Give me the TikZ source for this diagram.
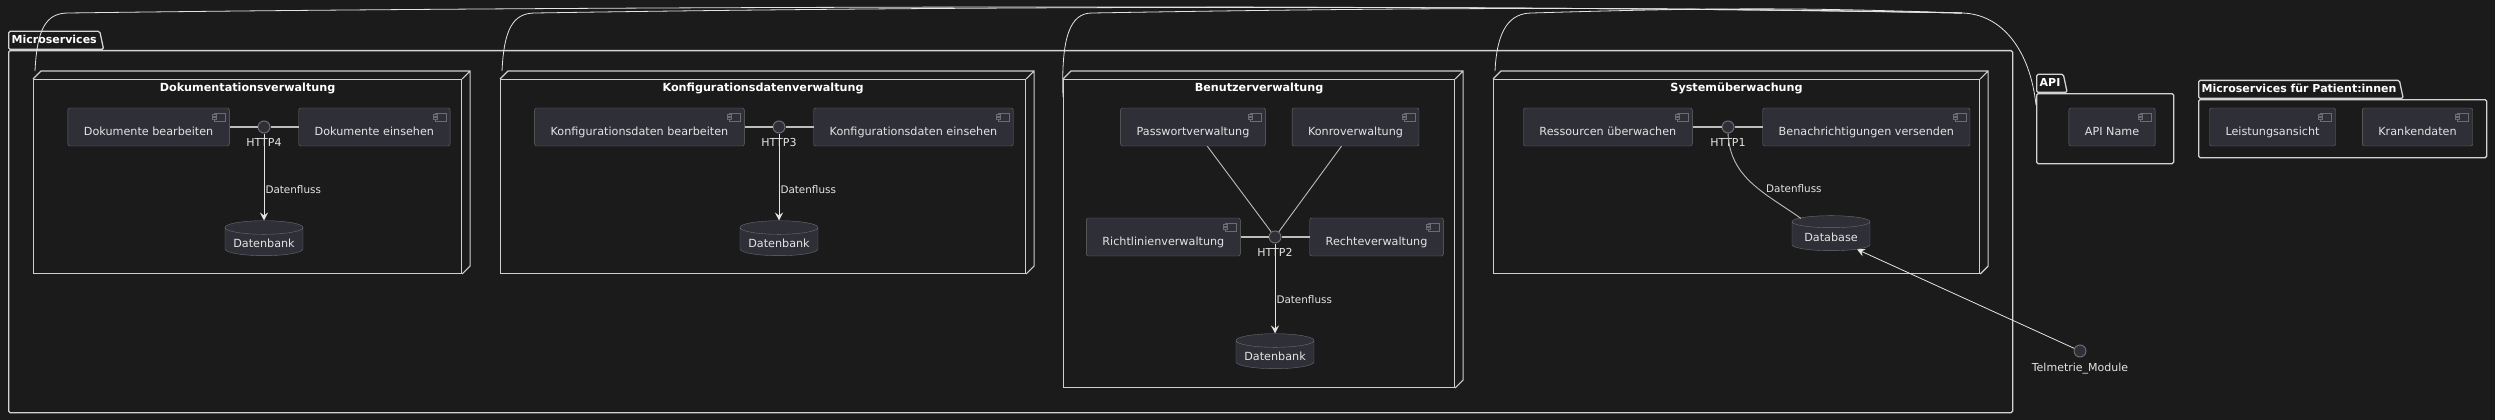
\documentclass[tikz,border=0pt]{standalone}
\usepackage{fontspec}
\setmainfont{DejaVu Sans}
\usetikzlibrary{%
	positioning,
	calc,
	arrows.meta,
	shapes.geometric
}
\definecolor{bgcol}{HTML}{1B1B1B}
\definecolor{pkgline}{HTML}{D4D4D4}
\definecolor{boxline}{HTML}{CFCFCF}
\definecolor{compfill}{HTML}{2F2F37}
\definecolor{compline}{HTML}{6C6C70}
\definecolor{textcol}{HTML}{E4E4E4}
\definecolor{linkcol}{HTML}{BDBDBD}

% back edges of a node box
\newcommand{\depthedges}[1]{\draw[boxedge] (#1.north west) -- ++(8,-8) -| ($(#1.south east)+(8,-8)$) -- (#1.south east) (#1.north east) -- ++(8,-8);}

\begin{document}
\begin{tikzpicture}[
		x=1pt, y=-1pt,
		comp/.style={draw=compline, fill=compfill, rounded corners=2pt, minimum height=38pt, inner xsep=16pt, inner ysep=2pt, text height=19pt, text depth=2pt, text=textcol, font=\fontsize{11.2}{13}\selectfont,
			path picture={\draw[compline, sharp corners, line width=.8pt] ($(path picture bounding box.north east)+(-15,5)$) rectangle ++(11,8);
				\draw[compline, sharp corners, fill=compfill, line width=.6pt] ($(path picture bounding box.north east)+(-17,6.5)$) rectangle ++(4,2) ($(path picture bounding box.north east)+(-17,9.5)$) rectangle ++(4,2);}},
		iface/.style={circle, draw=compline, fill=compfill, minimum size=12pt, inner sep=0pt, line width=1pt},
		lbl/.style={text=textcol, font=\fontsize{11}{13}\selectfont, inner sep=1pt, label distance=4pt},
		db/.style={cylinder, shape border rotate=90, aspect=0.2, draw=compline, fill=compfill, minimum width=78pt, minimum height=35pt, text=textcol, font=\fontsize{11.2}{13}\selectfont},
		nodebox/.style={draw=boxline, line width=1.1pt, anchor=north west, inner sep=0pt},
		boxedge/.style={draw=boxline, line width=1.1pt},
		title/.style={text=white, font=\bfseries\fontsize{11.2}{13}\selectfont, inner sep=1pt},
		pkgbody/.style={draw=pkgline, line width=1.3pt, anchor=north west, inner sep=0pt, rounded corners=1.5pt},
		pkgtab/.style={trapezium, trapezium left angle=90, trapezium right angle=78, draw=pkgline, line width=1.3pt, rounded corners=1.5pt, anchor=bottom left corner, text=white, font=\bfseries\fontsize{11}{13}\selectfont, inner xsep=3pt, inner ysep=3.9pt, text height=8pt, text depth=2.2pt},
		link/.style={draw=linkcol, line width=1.2pt},
		flow/.style={draw=textcol, line width=1pt, -{Stealth[length=8pt, width=8pt, inset=3pt]}},
		flowlabel/.style={anchor=west, inner sep=1pt, text=textcol, font=\fontsize{10.4}{12}\selectfont},
		apilink/.style={draw=textcol, line width=.8pt}
	]
	\fill[bgcol] (0,0) rectangle (2495,420);
	\useasboundingbox (0,0) rectangle (2495,420);
	
	% packages
	\node (msbody) [pkgbody, minimum width=2004pt, minimum height=362pt] at (8,50) {};
	\node (mstab) [pkgtab] at (msbody.north west) {Microservices};
	\node (apibody) [pkgbody, minimum width=137pt, minimum height=70pt] at (2036,93) {};
	\node (apitab) [pkgtab] at (apibody.north west) {API};
	\node (patbody) [pkgbody, minimum width=288pt, minimum height=58pt] at (2198,99) {};
	\node (pattab) [pkgtab] at (patbody.north west) {Microservices für Patient:innen};
	
	% Dokumentationsverwaltung
	\node (dokbox) [nodebox, minimum width=428pt, minimum height=194pt] at (33,79) {};
	\depthedges{dokbox}
	\node (doktitle) [title, below=3pt of dokbox.north] {Dokumentationsverwaltung};
	\node (http4) [iface, label={[lbl]below:HTTP4}] at (264,127) {};
	\node (dokbear) [comp, left=28pt of http4] {Dokumente bearbeiten};
	\node (dokein) [comp, right=28pt of http4] {Dokumente einsehen};
	\node (dokdb) [db, below=87pt of http4] {Datenbank};
	\draw[link] (dokbear) -- (http4) -- (dokein);
	\draw[flow] (http4) -- node[flowlabel, pos=.64] {Datenfluss} (dokdb);
	
	% Konfigurationsdatenverwaltung
	\node (konbox) [nodebox, minimum width=525pt, minimum height=194pt] at (500,79) {};
	\depthedges{konbox}
	\node (kontitle) [title, below=3pt of konbox.north] {Konfigurationsdatenverwaltung};
	\node (http3) [iface, label={[lbl]below:HTTP3}] at (779,127) {};
	\node (konbear) [comp, left=28pt of http3] {Konfigurationsdaten bearbeiten};
	\node (konein) [comp, right=28pt of http3] {Konfigurationsdaten einsehen};
	\node (kondb) [db, below=87pt of http3] {Datenbank};
	\draw[link] (konbear) -- (http3) -- (konein);
	\draw[flow] (http3) -- node[flowlabel, pos=.64] {Datenfluss} (kondb);
	
	% Benutzerverwaltung
	\node (benbox) [nodebox, minimum width=391pt, minimum height=308pt] at (1063,79) {};
	\depthedges{benbox}
	\node (bentitle) [title, below=3pt of benbox.north] {Benutzerverwaltung};
	\node (http2) [iface, label={[lbl]below:HTTP2}] at (1275,237) {};
	\node (pwverw) [comp] at (1193,127) {Passwortverwaltung};
	\node (konverw) [comp] at (1355.5,127) {Konroverwaltung};
	\node (rlverw) [comp, left=28pt of http2] {Richtlinienverwaltung};
	\node (reverw) [comp, right=28pt of http2] {Rechteverwaltung};
	\node (bendb) [db, below=90pt of http2] {Datenbank};
	\draw[link, line width=.9pt] (pwverw) -- (http2) -- (konverw);
	\draw[link] (rlverw) -- (http2) -- (reverw);
	\draw[flow] (http2) -- node[flowlabel, pos=.62] {Datenfluss} (bendb);
	
	% Systemüberwachung
	\node (sysbox) [nodebox, minimum width=486pt, minimum height=194pt] at (1493,79) {};
	\depthedges{sysbox}
	\node (systitle) [title, below=3pt of sysbox.north] {Systemüberwachung};
	\node (http1) [iface, label={[lbl]below:HTTP1}] at (1728,127) {};
	\node (resuew) [comp, left=29pt of http1] {Ressourcen überwachen};
	\node (benvers) [comp, right=28pt of http1] {Benachrichtigungen versenden};
	\node (sysdb) [db] at (1831,237.5) {Database};
	\draw[link] (resuew) -- (http1) -- (benvers);
	\draw[link, line width=.9pt] (http1.south) .. controls +(2,45) and +(-35,-25) .. ($(sysdb.north)+(-30,3)$);
	\node (sysflow) [flowlabel] at ($(http1)+(37,62)$) {Datenfluss};
	
	% API und Patient:innen
	\node (apiname) [comp] at (2112,127) {API Name};
	\node (leist) [comp] at (2272.5,127) {Leistungsansicht};
	\node (kranken) [comp] at (2417.5,127) {Krankendaten};
	
	\node (telm) [iface, label={[lbl]below:Telmetrie\_Module}] at (2080,351) {};
	\draw[flow, line width=.8pt] (telm) -- (sysdb);
	
	% links from API
	\coordinate (apiin) at ($(apibody.north west)+(0,12)$);
	\coordinate (apibend) at (1962,13);
	\draw[apilink] ($(dokbox.north west)+(2,-8)$) .. controls +(2,-42) and +(-22,0) .. ++(33,-58) .. controls +(600,-8) and +(-400,-8) .. (apibend) .. controls +(40,1) and +(-6,-55) .. (apiin);
	\draw[apilink] ($(konbox.north west)+(2,-8)$) .. controls +(2,-42) and +(-22,0) .. ++(33,-58) .. controls +(500,-8) and +(-400,-7) .. (apibend);
	\draw[apilink] ($(benbox.north west)+(0,18)$) .. controls +(-2,-60) and +(-22,0) .. ++(29,-84) .. controls +(350,-6) and +(-300,-6) .. (apibend);
	\draw[apilink] ($(sysbox.north west)+(2,-8)$) .. controls +(2,-42) and +(-22,0) .. ++(37,-58) .. controls +(200,-6) and +(-150,-5) .. (apibend);
	
\end{tikzpicture}
\end{document}
